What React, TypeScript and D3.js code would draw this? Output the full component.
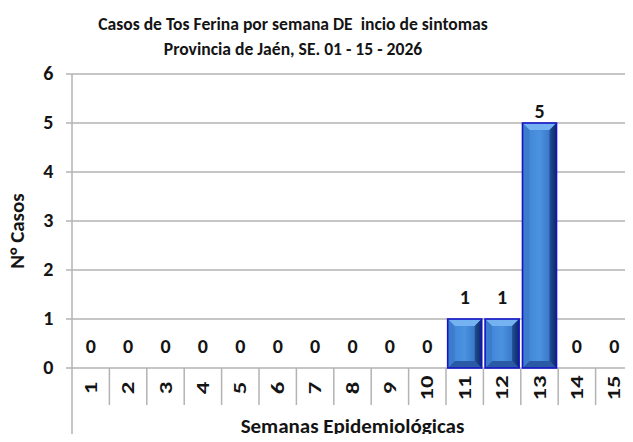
import React from "react";
import * as d3 from "d3";

const weeks = ["1","2","3","4","5","6","7","8","9","10","11","12","13","14","15"];
const cases = [0,0,0,0,0,0,0,0,0,0,1,1,5,0,0];
const yTicks = [0,1,2,3,4,5,6];
const titleLines = ["Casos de Tos Ferina por semana DE  incio de sintomas", "Provincia de Jaén, SE. 01 - 15 - 2026"];
const yTitle = "N° Casos";
const xTitle = "Semanas Epidemiológicas";

const W = 633, H = 442;
const left = 72, right = 633, top = 74, bottom = 368;
const FONT = "Carlito, Calibri, Lato, 'Open Sans', sans-serif";

export default function App() {
  const x = d3.scaleBand<string>().domain(weeks).range([left, right]).paddingInner(0.09).paddingOuter(0.045);
  const xb = d3.scaleBand<string>().domain(weeks).range([left, right]);
  const y = d3.scaleLinear().domain([0, 6]).range([bottom, top]);
  const grid = "#b3b3b3";
  const b = 7;
  const ink = "#141414";
  return (
    <div style={{ margin: -8 }}>
      <svg width={W} height={H} style={{ display: "block", background: "#fff" }} fontFamily={FONT}>
        <defs>
          <linearGradient id="face" x1="0" x2="1" y1="0" y2="0">
            <stop offset="0" stopColor="#3f82d4" />
            <stop offset="0.5" stopColor="#4b92e0" />
            <stop offset="1" stopColor="#2f67b8" />
          </linearGradient>
          <linearGradient id="rside" x1="0" x2="1" y1="0" y2="0">
            <stop offset="0" stopColor="#1f4f9a" />
            <stop offset="1" stopColor="#0e2660" />
          </linearGradient>
        </defs>
        {titleLines.map((t, i) => (
          <text key={i} x={293} y={30 + i * 25} textAnchor="middle" fontSize={17.6} fontWeight="bold" fill={ink} style={{ whiteSpace: "pre" }}>{t}</text>
        ))}
        {yTicks.map((t) => (
          <g key={t}>
            <line x1={left - 6} x2={right} y1={y(t)} y2={y(t)} stroke={grid} strokeWidth={1.5} />
            <text x={left - 18.5} y={y(t) + 6.4} textAnchor="end" fontSize={20} fontWeight="bold" fill={ink}>{t}</text>
          </g>
        ))}
        <line x1={left} x2={left} y1={top} y2={H} stroke={grid} strokeWidth={1.5} />
        {weeks.map((w) => (
          <g key={w}>
            <line x1={(xb(w) as number) + xb.bandwidth()} x2={(xb(w) as number) + xb.bandwidth()} y1={bottom} y2={405} stroke={grid} strokeWidth={1.5} />
            <text transform={`translate(${(xb(w) as number) + xb.bandwidth() / 2 + 6},${388}) rotate(-90) scale(1.3,1)`} textAnchor="middle" fontSize={19} fontWeight="bold" fill={ink}>{w}</text>
          </g>
        ))}
        {weeks.map((w, i) => {
          const v = cases[i];
          const x0 = x(w) as number;
          const x1 = x0 + x.bandwidth();
          const y0 = y(v);
          const y1 = y(0);
          const cx = (xb(w) as number) + xb.bandwidth() / 2;
          const ly = Math.max(y0 - 15.5, top + 44);
          return (
            <g key={w}>
              {v > 0 && (
                <g>
                  <rect x={x0} y={y0} width={x1 - x0} height={y1 - y0} fill="url(#face)" />
                  <polygon points={`${x0},${y0} ${x1},${y0} ${x1 - b},${y0 + b} ${x0 + b},${y0 + b}`} fill="#74b2f2" />
                  <polygon points={`${x0},${y1} ${x1},${y1} ${x1 - b},${y1 - b} ${x0 + b},${y1 - b}`} fill="#2a5aa6" />
                  <polygon points={`${x0},${y0} ${x0 + b},${y0 + b} ${x0 + b},${y1 - b} ${x0},${y1}`} fill="#3b7ccc" />
                  <polygon points={`${x1},${y0} ${x1 - b},${y0 + b} ${x1 - b},${y1 - b} ${x1},${y1}`} fill="url(#rside)" />
                  <rect x={x0} y={y0} width={x1 - x0} height={y1 - y0} fill="none" stroke="#1414c8" strokeWidth={1.6} />
                </g>
              )}
              <text x={cx} y={ly} textAnchor="middle" fontSize={20} fontWeight="bold" fill={ink}>{v}</text>
            </g>
          );
        })}
        <text transform={`translate(${24},${231}) rotate(-90)`} textAnchor="middle" fontSize={21} fontWeight="bold" fill={ink}>{yTitle}</text>
        <text x={(left + right) / 2} y={433} textAnchor="middle" fontSize={21} fontWeight="bold" fill={ink}>{xTitle}</text>
      </svg>
    </div>
  );
}
